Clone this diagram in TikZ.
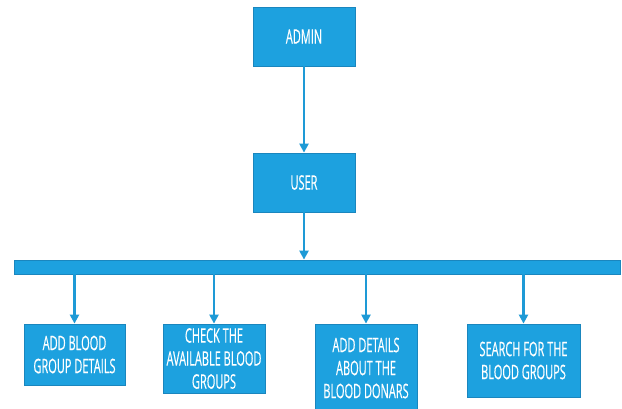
\documentclass[tikz,border=0pt]{standalone}
\usepackage{fontspec}
\setmainfont{Open Sans}[FakeStretch=0.55,FakeBold=0.4]
\usetikzlibrary{arrows.meta,calc}
\definecolor{boxblue}{HTML}{1DA1DF}
\definecolor{edgeblue}{HTML}{1A86BE}
\definecolor{lineblue}{HTML}{1E9AD6}
\tikzset{
  box/.style={draw=edgeblue, line width=0.8pt, fill=boxblue, text=white, align=center,
    inner sep=0pt, font=\fontsize{20}{23}\selectfont},
  conn/.style={draw=lineblue, line width=2.6pt, -{Triangle[length=9pt,width=9pt]}}
}
\begin{document}
\begin{tikzpicture}[x=1pt,y=-1pt]
\useasboundingbox[fill=white] (0,0) rectangle (622,408);
\node[box, minimum width=102pt, minimum height=59pt] (admin) at (304,36.5) {ADMIN};
\node[box, minimum width=102pt, minimum height=59pt] (user) at (304,182.5) {USER};
\node[draw=edgeblue, line width=0.8pt, fill=boxblue, minimum width=606pt, minimum height=14pt, inner sep=0pt] (bar) at (317,267) {};
\node[box, minimum width=101pt, minimum height=61pt] (b1) at (74.5,354.5) {ADD BLOOD\\GROUP DETAILS};
\node[box, minimum width=102pt, minimum height=69pt] (b2) at (214,358.5) {CHECK THE\\AVAILABLE BLOOD\\GROUPS};
\node[box, minimum width=102pt, minimum height=88pt] (b3) at (366,368) {ADD DETAILS\\ABOUT THE\\BLOOD DONARS};
\node[box, minimum width=113pt, minimum height=73pt] (b4) at (523.5,360.5) {SEARCH FOR THE\\BLOOD GROUPS};
\draw[conn] (admin.south) -- (user.north);
\draw[conn] (user.south) -- (user.south |- bar.north);
\foreach \b in {b1,b2,b3,b4}
  \draw[conn] (\b.north |- bar.south) -- (\b.north);
\end{tikzpicture}
\end{document}
